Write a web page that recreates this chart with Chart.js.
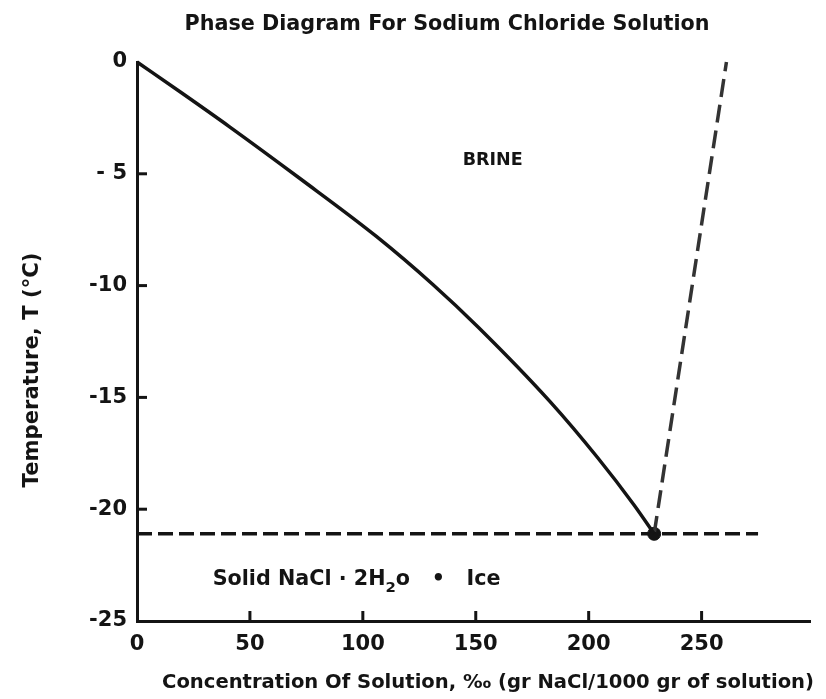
<!DOCTYPE html>
<html>
<head>
<meta charset="utf-8">
<script src="https://cdn.jsdelivr.net/npm/chart.js@4.4.1/dist/chart.umd.min.js"></script>
<style>
  html, body { margin: 0; padding: 0; background: #fff; }
  #wrap { width: 826px; height: 699px; position: relative; }
</style>
</head>
<body>
<div id="wrap"><canvas id="c" width="826" height="699"></canvas></div>
<script>
// ---- Data ----
const liquidusX = [0, 20, 41, 72, 106, 131, 151, 183, 204, 220, 229];
const liquidusY = [0, -1.4, -2.9, -5.2, -7.8, -9.95, -11.85, -15.2, -17.7, -19.8, -21.1];
const eutecticLineX = [0, 275];
const eutecticLineY = [-21.1, -21.1];
const solubilityX = [229, 261];
const solubilityY = [-21.1, 0];
const eutecticPointX = [229];
const eutecticPointY = [-21.1];
const xTickValues = [0, 50, 100, 150, 200, 250];
const yTickValues = [0, -5, -10, -15, -20, -25];
const yTickLabels = ['0', '- 5', '-10', '-15', '-20', '-25'];

const chartTitle = 'Phase Diagram For Sodium Chloride Solution';
const xTitle = 'Concentration Of Solution, \u2030 (gr NaCl/1000 gr of solution)';
const yTitle = 'Temperature, T (\u00B0C)';
const brineLabel = 'BRINE';

const toPts = (xs, ys) => xs.map((x, i) => ({x: x, y: ys[i]}));
const FONT = '"DejaVu Sans", "Liberation Sans", sans-serif';
const INK = '#141414';

function fitFont(ctx, text, width, weight) {
  ctx.font = weight + ' 20px ' + FONT;
  const w = ctx.measureText(text).width;
  const size = 20 * width / w;
  ctx.font = weight + ' ' + size.toFixed(2) + 'px ' + FONT;
  return size;
}

const decor = {
  id: 'decor',
  afterDraw(chart) {
    const {ctx, chartArea: a, scales: {x, y}} = chart;
    ctx.save();
    // inward tick marks
    ctx.strokeStyle = INK;
    ctx.lineWidth = 3;
    ctx.lineCap = 'butt';
    yTickValues.forEach(v => {
      if (v === 0 || v === -25) return;
      const py = y.getPixelForValue(v);
      ctx.beginPath(); ctx.moveTo(a.left, py); ctx.lineTo(a.left + 10, py); ctx.stroke();
    });
    xTickValues.forEach(v => {
      if (v === 0) return;
      const px = x.getPixelForValue(v);
      ctx.beginPath(); ctx.moveTo(px, a.bottom); ctx.lineTo(px, a.bottom - 10); ctx.stroke();
    });

    ctx.fillStyle = INK;
    ctx.textAlign = 'center';
    ctx.textBaseline = 'middle';
    // chart title
    fitFont(ctx, chartTitle, 525, 'bold');
    ctx.fillText(chartTitle, 447, 25);
    // x title
    fitFont(ctx, xTitle, 652, 'bold');
    ctx.fillText(xTitle, 488, 683);
    // y title
    ctx.save();
    ctx.translate(33, 370);
    ctx.rotate(-Math.PI / 2);
    fitFont(ctx, yTitle, 235, 'bold');
    ctx.fillText(yTitle, 0, 0);
    ctx.restore();
    // BRINE
    fitFont(ctx, brineLabel, 60, 'bold');
    ctx.fillText(brineLabel, x.getPixelForValue(157.5), y.getPixelForValue(-4.4));
    // Solid NaCl·2H2o • Ice  (fitted to the reference width)
    const segs = [
      {t: 'Solid NaCl \u00B7 2H', sub: false},
      {t: '2', sub: true},
      {t: 'o   \u2022   Ice', sub: false}
    ];
    const measure = (base) => segs.reduce((w, s) => {
      ctx.font = 'bold ' + (s.sub ? base * 0.72 : base) + 'px ' + FONT;
      return w + ctx.measureText(s.t).width;
    }, 0);
    const base = 20 * 288 / measure(20);
    let cx = x.getPixelForValue(33.5);
    const cy = y.getPixelForValue(-23.17);
    ctx.textAlign = 'left';
    segs.forEach(s => {
      ctx.font = 'bold ' + (s.sub ? base * 0.72 : base).toFixed(2) + 'px ' + FONT;
      ctx.fillText(s.t, cx, s.sub ? cy + base * 0.4 : cy);
      cx += ctx.measureText(s.t).width;
    });
    ctx.restore();
  }
};

new Chart(document.getElementById('c'), {
  type: 'scatter',
  data: {
    datasets: [
      {
        label: 'Freezing curve',
        data: toPts(liquidusX, liquidusY),
        showLine: true,
        borderColor: INK,
        borderWidth: 3.5,
        pointRadius: 0,
        cubicInterpolationMode: 'monotone',
        clip: false
      },
      {
        label: 'Eutectic temperature',
        data: toPts(eutecticLineX, eutecticLineY),
        showLine: true,
        borderColor: INK,
        borderWidth: 3.5,
        borderDash: [15, 6],
        pointRadius: 0,
        clip: false
      },
      {
        label: 'Solubility',
        data: toPts(solubilityX, solubilityY),
        showLine: true,
        borderColor: '#333333',
        borderWidth: 3.5,
        borderDash: [18, 8],
        pointRadius: 0,
        clip: false
      },
      {
        label: 'Eutectic point',
        data: toPts(eutecticPointX, eutecticPointY),
        showLine: false,
        pointRadius: 6.5,
        pointBackgroundColor: INK,
        pointBorderColor: INK,
        clip: false
      }
    ]
  },
  options: {
    responsive: false,
    animation: false,
    devicePixelRatio: 1,
    layout: { padding: { top: 62, right: 16, bottom: 0, left: 0 } },
    plugins: {
      legend: { display: false },
      tooltip: { enabled: false },
      title: { display: false }
    },
    scales: {
      x: {
        type: 'linear',
        min: 0,
        max: 298,
        afterBuildTicks: s => { s.ticks = xTickValues.map(v => ({value: v})); },
        afterFit: s => { s.height = 78; },
        grid: { display: false, drawTicks: false },
        border: { display: true, color: INK, width: 3 },
        ticks: {
          padding: 11,
          color: INK,
          maxRotation: 0,
          font: { family: FONT, size: 21, weight: 'bold' }
        }
      },
      y: {
        type: 'linear',
        min: -25,
        max: 0,
        afterBuildTicks: s => { s.ticks = yTickValues.map(v => ({value: v})); },
        afterFit: s => { s.width = 137; },
        grid: { display: false, drawTicks: false },
        border: { display: true, color: INK, width: 3 },
        ticks: {
          padding: 10,
          color: INK,
          font: { family: FONT, size: 21, weight: 'bold' },
          callback: (v) => { const i = yTickValues.indexOf(v); return i >= 0 ? yTickLabels[i] : ''; }
        }
      }
    }
  },
  plugins: [decor]
});
</script>
</body>
</html>
